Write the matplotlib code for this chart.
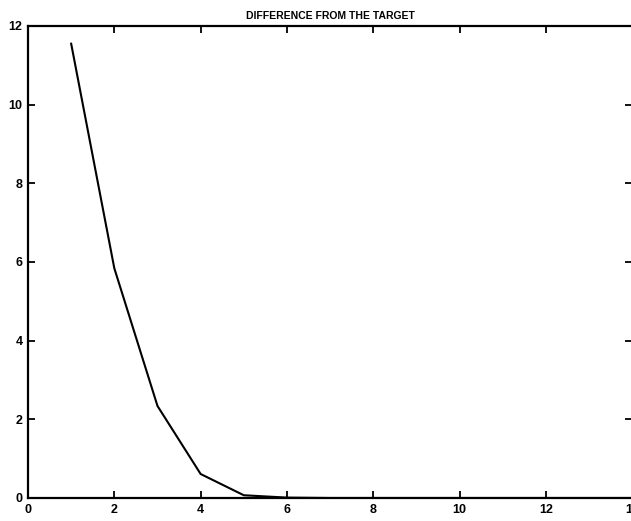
import matplotlib
matplotlib.use("Agg")
import matplotlib.pyplot as plt

iterations = [1, 2, 3, 4, 5, 6, 7, 8, 9, 10, 11, 12, 13, 14]
difference = [11.55, 5.84, 2.34, 0.61, 0.07, 0.01, 0.0, 0.0, 0.0, 0.0, 0.0, 0.0, 0.0, 0.0]
x_ticks = [0, 2, 4, 6, 8, 10, 12, 14]
y_ticks = [0, 2, 4, 6, 8, 10, 12]
title = "DIFFERENCE FROM THE TARGET"

plt.rcParams['font.family'] = ['Liberation Sans', 'DejaVu Sans']
fig = plt.figure(figsize=(6.31, 5.21), dpi=100)
ax = fig.add_axes([28/631, 23/521, 1 - 28/631 + 0.002, (498-26)/521])
ax.plot(iterations, difference, color='black', linewidth=1.5)
ax.set_xlim(0, 14)
ax.set_ylim(0, 12)
ax.set_xticks(x_ticks)
ax.set_yticks(y_ticks)
ax.tick_params(direction='in', length=5, width=1.3, top=True, right=True,
               labelsize=9, pad=4)
for lbl in ax.get_xticklabels() + ax.get_yticklabels():
    lbl.set_fontweight('bold')
for s in ax.spines.values():
    s.set_linewidth(1.6)
ax.set_title(title, fontsize=7.5, pad=5, fontweight='semibold')
fig.savefig("out.png", dpi=100)
